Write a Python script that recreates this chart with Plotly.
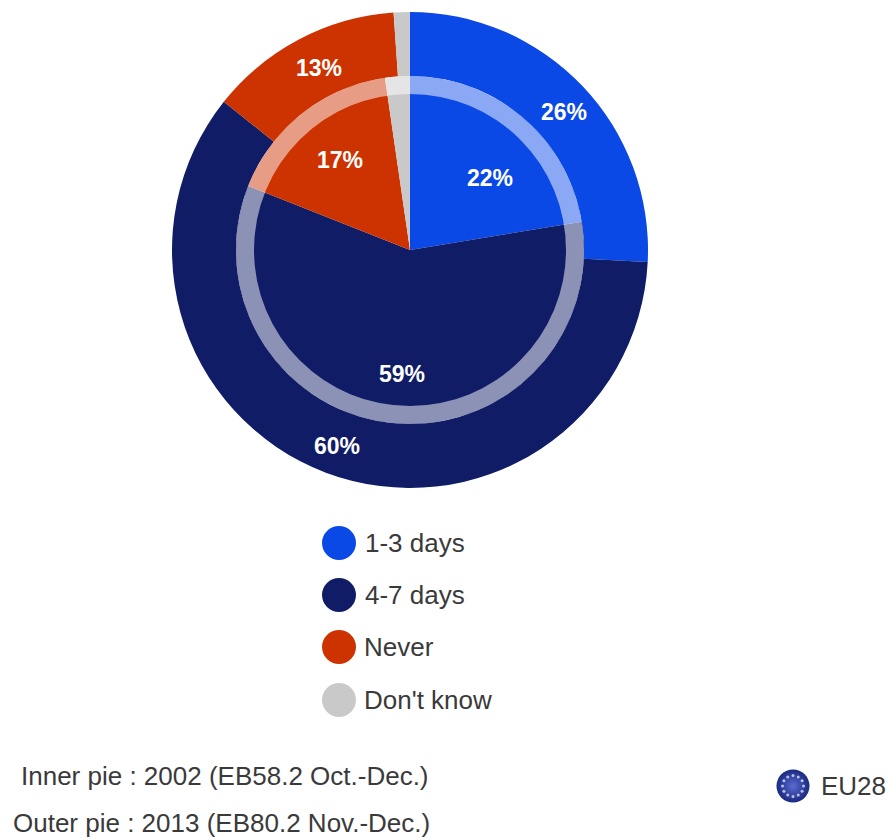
import math
import plotly.graph_objects as go

W, H = 887, 838
categories = ["1-3 days", "4-7 days", "Never", "Don't know"]
outer_2013 = [25.8, 59.9, 13.2, 1.1]
inner_2002 = [22.4, 58.6, 16.7, 2.3]
colors = ["#0B49E6", "#101C66", "#CC3300", "#C9C9C9"]
footnotes = ["Inner pie : 2002 (EB58.2 Oct.-Dec.)", "Outer pie : 2013 (EB80.2 Nov.-Dec.)"]
badge = "EU28"

# label centres in pixels, one per slice (the "Don't know" slices carry no label)
outer_label_xy = [(564, 112), (337, 446), (319, 68), None]
inner_label_xy = [(490, 178), (402, 374), (340, 160), None]

CX, CY = 410, 250
R_OUT, R_RING, R_HOLE = 238, 174, 156
FONT = "Liberation Sans"
FLAG_X, FLAG_Y = 793, 786


def dom(r):
    return dict(x=[(CX - r) / W, (CX + r) / W], y=[1 - (CY + r) / H, 1 - (CY - r) / H])


def pie(vals, r, hole):
    return go.Pie(
        labels=categories, values=vals, domain=dom(r), hole=hole, sort=False,
        direction="clockwise", rotation=0, textinfo="none",
        marker=dict(colors=colors, line=dict(width=0)), showlegend=False,
    )


fig = go.Figure()
fig.add_trace(pie(outer_2013, R_OUT, R_RING / R_OUT))
fig.add_trace(pie(inner_2002, R_RING, 0))
fig.add_trace(go.Pie(
    values=[1], labels=["ring"], domain=dom(R_RING), hole=R_HOLE / R_RING, sort=False,
    textinfo="none", hoverinfo="skip", showlegend=False,
    marker=dict(colors=["rgba(255,255,255,0.52)"], line=dict(width=0)),
))

shapes, annotations = [], []


def text(x, y, s, size=26, anchor="left", color="#3A3A3A", weight="normal"):
    annotations.append(dict(
        x=x / W, y=1 - y / H, xref="paper", yref="paper", text=s, showarrow=False,
        xanchor=anchor, yanchor="middle",
        font=dict(family=FONT, size=size, color=color, weight=weight),
    ))


for vals, xy in ((outer_2013, outer_label_xy), (inner_2002, inner_label_xy)):
    for v, p in zip(vals, xy):
        if p:
            text(p[0], p[1], f"{v:.0f}%", 23, "center", "white", "bold")

LEG_Y = [543, 595, 647, 700]
LEG_X = [363, 363, 362, 362]
for cat, col, y, x in zip(categories, colors, LEG_Y, LEG_X):
    shapes.append(dict(type="circle", xref="paper", yref="paper", line=dict(width=0), fillcolor=col,
                       x0=(339 - 17) / W, x1=(339 + 17) / W, y0=1 - (y + 17) / H, y1=1 - (y - 17) / H))
    text(x, y, cat, 26)

text(19, 776, footnotes[0], 26)
text(11, 823, footnotes[1], 26)
text(819, 786, badge, 26)

fig.add_trace(go.Scatter(
    x=[FLAG_X / W], y=[1 - FLAG_Y / H], mode="markers", hoverinfo="skip", showlegend=False,
    marker=dict(size=33, color="#1A2A80", symbol="circle",
                gradient=dict(type="radial", color="#5A6AD0"), line=dict(width=0)),
))
# ring of twelve stars on the EU badge
star_angles = [i * math.pi / 6 for i in range(12)]
fig.add_trace(go.Scatter(
    x=[(FLAG_X + 10.5 * math.cos(a)) / W for a in star_angles],
    y=[1 - (FLAG_Y + 10.5 * math.sin(a)) / H for a in star_angles],
    mode="markers", hoverinfo="skip", showlegend=False,
    marker=dict(size=3, color="#B8C0E8", line=dict(width=0)),
))

fig.update_layout(
    width=W, height=H, margin=dict(l=0, r=0, t=0, b=0), paper_bgcolor="white", plot_bgcolor="white",
    shapes=shapes, annotations=annotations,
    xaxis=dict(visible=False, range=[0, 1], fixedrange=True),
    yaxis=dict(visible=False, range=[0, 1], fixedrange=True),
)
fig.write_html(
    "out.html",
    config=dict(displayModeBar=False),
    post_script="document.body.style.margin='0';document.body.style.overflow='hidden';",
)
